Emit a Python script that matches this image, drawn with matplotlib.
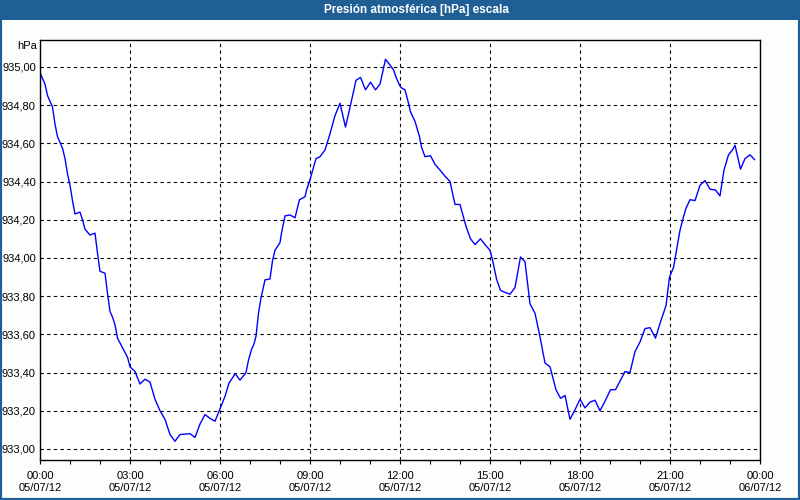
import matplotlib
matplotlib.use("Agg")
import matplotlib.pyplot as plt
import matplotlib.dates as mdates
from matplotlib.ticker import FixedLocator, FuncFormatter
from datetime import datetime, timedelta

plt.rcParams["font.family"] = ["Liberation Sans", "DejaVu Sans"]

titulo = "Presión atmosférica [hPa] escala"
unidad = "hPa"
dia = datetime(2012, 7, 5)

# minutos desde las 00:00 del 05/07/12
minutos = [0, 10, 15, 25, 30, 35, 45, 50, 55, 60, 65, 70, 80, 85, 90, 100, 110, 115,
           120, 130, 135, 140, 145, 150, 155, 165, 175, 180, 190, 200, 210, 220, 230,
           240, 250, 260, 270, 280, 300, 310, 320, 330, 340, 350, 360, 370, 378, 387,
           390, 400, 412, 417, 423, 428, 432, 437, 442, 450, 460, 465, 470, 480, 483,
           490, 500, 510, 519, 530, 533, 540, 552, 560, 570, 580, 590, 600, 611, 621,
           632, 641, 651, 661, 671, 680, 691, 700, 707, 713, 720, 723, 730, 737, 741,
           750, 759, 763, 770, 781, 790, 800, 811, 820, 830, 840, 852, 861, 870, 881,
           890, 900, 905, 913, 921, 930, 940, 950, 961, 970, 975, 980, 990, 999, 1010,
           1020, 1032, 1041, 1050, 1060, 1070, 1080, 1090, 1100, 1110, 1120, 1130, 1141,
           1151, 1161, 1170, 1180, 1190, 1200, 1210, 1220, 1231, 1241, 1252, 1259, 1267,
           1273, 1280, 1287, 1292, 1300, 1310, 1320, 1330, 1340, 1351, 1360, 1368, 1377,
           1385, 1390, 1401, 1410, 1420, 1429]
presion = [934.97, 934.91, 934.85, 934.79, 934.70, 934.635, 934.575, 934.52, 934.44,
           934.38, 934.30, 934.23, 934.24, 934.20, 934.15, 934.12, 934.13, 934.025,
           933.93, 933.92, 933.815, 933.72, 933.69, 933.65, 933.58, 933.53, 933.48,
           933.43, 933.405, 933.34, 933.365, 933.35, 933.26, 933.20, 933.155, 933.075,
           933.04, 933.075, 933.08, 933.06, 933.13, 933.18, 933.16, 933.145, 933.21,
           933.275, 933.345, 933.38, 933.395, 933.36, 933.40, 933.465, 933.52, 933.55,
           933.59, 933.71, 933.79, 933.885, 933.89, 933.985, 934.04, 934.08, 934.13,
           934.22, 934.225, 934.21, 934.305, 934.32, 934.355, 934.41, 934.52, 934.53,
           934.565, 934.65, 934.745, 934.81, 934.685, 934.80, 934.93, 934.945, 934.88,
           934.92, 934.88, 934.91, 935.04, 935.01, 934.985, 934.94, 934.90, 934.89,
           934.88, 934.81, 934.765, 934.715, 934.635, 934.58, 934.53, 934.535, 934.49,
           934.46, 934.425, 934.40, 934.28, 934.28, 934.165, 934.10, 934.07, 934.10,
           934.07, 934.04, 933.99, 933.89, 933.83, 933.82, 933.81, 933.845, 934.005,
           933.98, 933.87, 933.76, 933.71, 933.60, 933.45, 933.43, 933.31, 933.265,
           933.28, 933.155, 933.205, 933.26, 933.215, 933.245, 933.255, 933.20, 933.25,
           933.31, 933.31, 933.36, 933.405, 933.40, 933.51, 933.56, 933.63, 933.635,
           933.58, 933.665, 933.75, 933.90, 933.95, 934.04, 934.145, 934.215, 934.26,
           934.305, 934.30, 934.38, 934.405, 934.36, 934.355, 934.325, 934.46, 934.54,
           934.565, 934.59, 934.465, 934.52, 934.54, 934.515]
niveles_y = [933.0, 933.2, 933.4, 933.6, 933.8, 934.0, 934.2, 934.4, 934.6, 934.8, 935.0]

fechas = [dia + timedelta(minutes=m) for m in minutos]

azul_barra = "#1f5f96"
fig = plt.figure(figsize=(8, 5), dpi=100, facecolor="#fcfefc")
ax = fig.add_axes([0.05, 0.08, 0.90, 0.84], facecolor="white")

ax.plot(fechas, presion, color="#0000ff", linewidth=1.0)

ax.set_xlim(dia, dia + timedelta(days=1))
ax.set_ylim(932.942, 935.141)

ax.xaxis.set_major_locator(mdates.HourLocator(byhour=range(0, 24, 3)))
ax.xaxis.set_minor_locator(mdates.HourLocator())
ax.xaxis.set_major_formatter(mdates.DateFormatter("%H:%M\n%d/%m/%y"))
ax.yaxis.set_major_locator(FixedLocator(niveles_y))
ax.yaxis.set_major_formatter(FuncFormatter(lambda v, p: f"{v:.2f}".replace(".", ",")))

ax.tick_params(axis="x", which="both", direction="out", length=3, width=0.8,
               pad=5, labelsize=8, colors="black")
ax.tick_params(axis="y", length=0, pad=3, labelsize=8, colors="black")
for lbl in ax.get_xticklabels():
    lbl.set_linespacing(1.25)

ax.grid(True, color="black", linestyle=(0, (3, 3)), linewidth=0.8)
for s in ax.spines.values():
    s.set_color("black")
    s.set_linewidth(1.0)

# texto de unidad arriba del eje
fig.text(37 / 800, 1 - 46 / 500, unidad, ha="right", va="center", fontsize=8)

# barra de título
fig.patches.append(plt.Rectangle((0, 1 - 20 / 500), 1, 20 / 500, transform=fig.transFigure,
                                 facecolor=azul_barra, edgecolor="none", zorder=0))
fig.patches.append(plt.Rectangle((0, 0), 1, 1, transform=fig.transFigure,
                                 facecolor="none", edgecolor=azul_barra, linewidth=3, zorder=5))
fig.text(416 / 800, 1 - 10 / 500, titulo, ha="center", va="center", color="white",
         fontsize=8.5, fontweight="bold")

fig.savefig("out.png", dpi=100, facecolor=fig.get_facecolor())
